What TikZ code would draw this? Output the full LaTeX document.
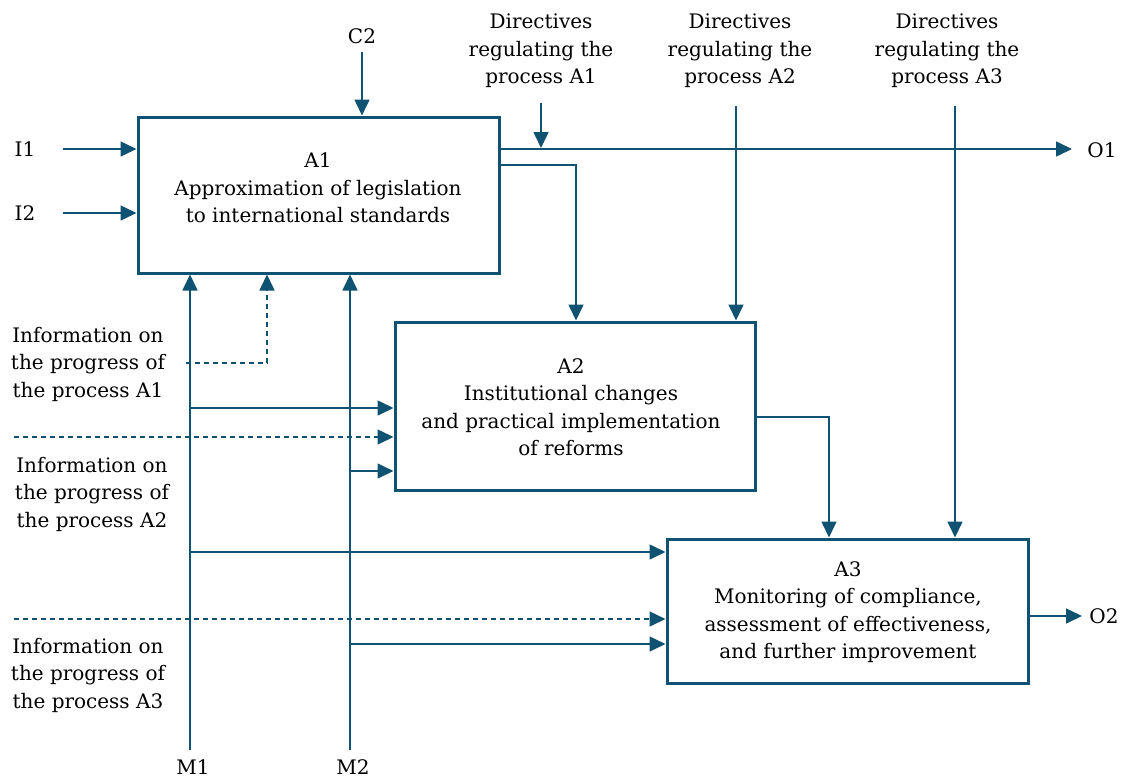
\documentclass[tikz,border=0pt]{standalone}
\usepackage{fontspec}
\setmainfont{DejaVu Serif}
\usetikzlibrary{arrows.meta}
\definecolor{idef}{RGB}{16,82,114}
\begin{document}
\begin{tikzpicture}[x=1pt,y=-1pt,
  lbl/.style={font=\fontsize{20}{27.5}\selectfont, text=black, inner sep=0pt, align=center},
  box/.style={draw=idef, line width=3pt, inner sep=0pt},
  conn/.style={draw=idef, line width=1.6pt},
  arr/.style={conn, -{Triangle[length=16pt,width=15pt]}},
  dsh/.style={arr, dash pattern=on 5pt off 4pt}]
\useasboundingbox (0,0) rectangle (1124,780);
% boxes
\node[box, minimum width=361pt, minimum height=156pt] (A1) at (318.5,195) {};
\node[box, minimum width=360pt, minimum height=168pt] (A2) at (575,406) {};
\node[box, minimum width=361pt, minimum height=144pt] (A3) at (847.5,611) {};
\node[lbl] (A1t) at (318,188) {A1\\Approximation of legislation\\to international standards};
\node[lbl] (A2t) at (571,407) {A2\\Institutional changes\\and practical implementation\\of reforms};
\node[lbl] (A3t) at (848,612) {A3\\Monitoring of compliance,\\assessment of effectiveness,\\and further improvement};
% labels
\node[lbl] (C2) at (362,36) {C2};
\node[lbl] (D1) at (541,51) {Directives\\regulating the\\process A1};
\node[lbl] (D2) at (740,51) {Directives\\regulating the\\process A2};
\node[lbl] (D3) at (947,51) {Directives\\regulating the\\process A3};
\node[lbl] (I1) at (25,149) {I1};
\node[lbl] (I2) at (25,213) {I2};
\node[lbl] (O1) at (1102,150) {O1};
\node[lbl] (O2) at (1104,616) {O2};
\node[lbl] (M1) at (193,767) {M1};
\node[lbl] (M2) at (353,767) {M2};
\node[lbl] (P1) at (88,364) {Information on\\the progress of\\the process A1};
\node[lbl] (P2) at (92,494) {Information on\\the progress of\\the process A2};
\node[lbl] (P3) at (88,675) {Information on\\the progress of\\the process A3};
% coordinates
\coordinate (c2) at (362,52);
\coordinate (d1) at (541,103);
\coordinate (d1e) at (541,148);
\coordinate (d2) at (736,106);
\coordinate (d3) at (955,106);
\coordinate (o1) at (1072,149);
\coordinate (o2) at (1082,616);
\coordinate (k12) at (576,165);
\coordinate (k23) at (829,417);
\coordinate (i1) at (63,149);
\coordinate (i2) at (63,213);
\coordinate (m1) at (190,750);
\coordinate (m2) at (350,750);
\coordinate (f1) at (186,363);
\coordinate (f1c) at (267,363);
\coordinate (m1a2) at (190,408);
\coordinate (f2) at (14,437);
\coordinate (m2a2) at (350,471);
\coordinate (m1a3) at (190,552);
\coordinate (f3) at (14,619);
\coordinate (m2a3) at (350,644);
% connectors
\draw[arr] (c2) -- (c2 |- A1.north);
\draw[arr] (d1) -- (d1e);
\draw[arr] (d2) -- (d2 |- A2.north);
\draw[arr] (d3) -- (d3 |- A3.north);
\draw[arr] (o1 -| A1.east) -- (o1);
\draw[arr] (o2 -| A3.east) -- (o2);
\draw[arr] (k12 -| A1.east) -| (k12 |- A2.north);
\draw[arr] (k23 -| A2.east) -| (k23 |- A3.north);
\draw[arr] (i1) -- (i1 -| A1.west);
\draw[arr] (i2) -- (i2 -| A1.west);
\draw[arr] (m1) -- (m1 |- A1.south);
\draw[arr] (m2) -- (m2 |- A1.south);
\draw[dsh] (f1) -- (f1c) -- (f1c |- A1.south);
\draw[arr] (m1a2) -- (m1a2 -| A2.west);
\draw[dsh] (f2) -- (f2 -| A2.west);
\draw[arr] (m2a2) -- (m2a2 -| A2.west);
\draw[arr] (m1a3) -- (m1a3 -| A3.west);
\draw[dsh] (f3) -- (f3 -| A3.west);
\draw[arr] (m2a3) -- (m2a3 -| A3.west);
\end{tikzpicture}
\end{document}
